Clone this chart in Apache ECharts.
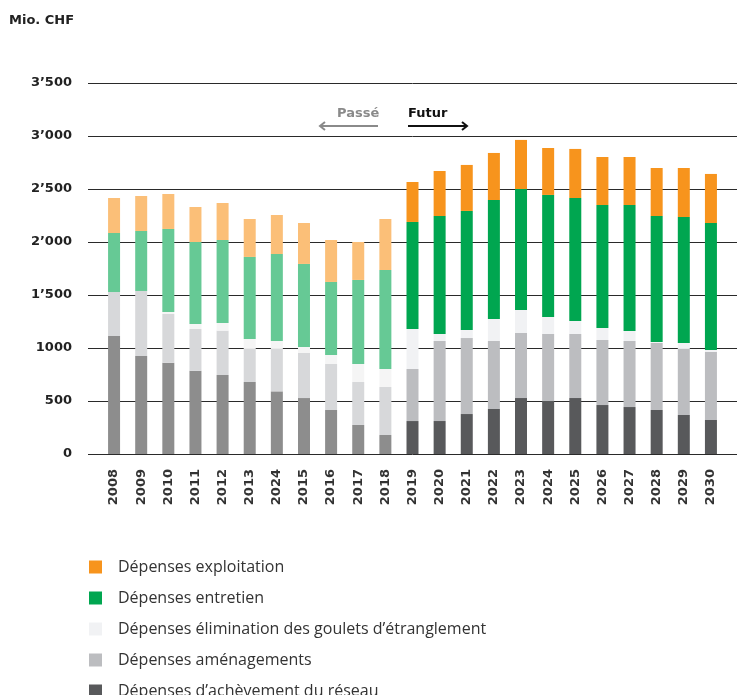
<!DOCTYPE html>
<html>
<head>
<meta charset="utf-8">
<script src="https://cdn.jsdelivr.net/npm/echarts@6/dist/echarts.min.js"></script>
<style>
  html, body { margin: 0; padding: 0; background: #fff; }
  #main { width: 737px; height: 695px; }
</style>
</head>
<body>
<div id="main"></div>
<script>
const myChart = echarts.init(document.getElementById('main'));

const years = ['2008', '2009', '2010', '2011', '2012', '2013', '2024', '2015', '2016', '2017', '2018',
  '2019', '2020', '2021', '2022', '2023', '2024', '2025', '2026', '2027', '2028', '2029', '2030'];
const pastCount = 11; // 2008-2018 : passé (couleurs claires)

const acheve = [1113, 925, 862, 786, 745, 679, 591, 528, 415, 274, 179,
  311, 311, 377, 425, 528, 500, 528, 462, 443, 415, 368, 321];
const amenag = [415, 613, 459, 393, 419, 312, 400, 425, 434, 405, 453,
  491, 755, 717, 641, 614, 632, 604, 614, 623, 632, 623, 641];
const goulets = [0, 0, 19, 48, 72, 94, 75, 57, 85, 170, 170,
  377, 66, 76, 208, 217, 161, 123, 113, 94, 10, 56, 19];
const entretien = [557, 566, 783, 773, 783, 774, 821, 783, 689, 793, 934,
  1010, 1113, 1123, 1122, 1141, 1151, 1160, 1160, 1189, 1188, 1189, 1198];
const exploit = [330, 330, 330, 330, 349, 358, 368, 386, 396, 358, 481,
  377, 425, 434, 444, 463, 443, 463, 453, 453, 453, 462, 463];

const yTicks = ['0', '500', '1000', '1’500', '2’000', '2’500', '3’000', '3’500'];

const seriesDefs = [
  { name: 'Dépenses d’achèvement du réseau', data: acheve, color: '#58595b', light: '#8d8d8d' },
  { name: 'Dépenses aménagements', data: amenag, color: '#bcbdc0', light: '#d7d8da' },
  { name: 'Dépenses élimination des goulets d’étranglement', data: goulets, color: '#f1f2f4', light: '#f5f5f5' },
  { name: 'Dépenses entretien', data: entretien, color: '#00a650', light: '#66c995' },
  { name: 'Dépenses exploitation', data: exploit, color: '#f7941d', light: '#fbbf78' }
];

const gridTop = 83, gridBottom = 241;
const boldFont = 'DejaVu Sans, sans-serif';

// une légende par ligne, pour garder une seule colonne
const legendOrder = [4, 3, 2, 1, 0];
const legends = legendOrder.map((k, i) => ({
  orient: 'vertical', left: 89, top: 559 + i * 31, padding: 0,
  itemWidth: 13, itemHeight: 13, icon: 'rect',
  data: [seriesDefs[k].name],
  textStyle: { fontSize: 16, color: '#333', fontFamily: 'Open Sans, sans-serif', padding: [0, 0, 0, 11] }
}));

const option = {
  animation: false,
  grid: [
    { left: 88, right: 0, top: gridTop, bottom: gridBottom },
    { left: 100.5, right: 12.5, top: gridTop, bottom: gridBottom }
  ],
  xAxis: [
    { type: 'category', gridIndex: 0, data: years, show: false },
    {
      type: 'category', gridIndex: 1, data: years,
      axisLine: { show: false }, axisTick: { show: false },
      axisLabel: { rotate: 90, margin: 15, interval: 0, fontSize: 13, fontWeight: 'bold', color: '#333', fontFamily: boldFont }
    }
  ],
  yAxis: [
    {
      type: 'value', gridIndex: 0, min: 0, max: 3500, interval: 500,
      axisLine: { show: false }, axisTick: { show: false },
      axisLabel: {
        margin: 16, fontSize: 13, fontWeight: 'bold', color: '#222', fontFamily: boldFont,
        formatter: v => yTicks[Math.round(v / 500)]
      },
      splitLine: { lineStyle: { color: '#2a2a2a', width: 1 } }
    },
    {
      type: 'value', gridIndex: 1, min: 0, max: 3500, interval: 500,
      show: false, splitLine: { show: false }
    }
  ],
  legend: legends,
  graphic: [
    { type: 'text', left: 9, top: 14, style: { text: 'Mio. CHF', font: 'bold 13px DejaVu Sans', fill: '#222' } },
    { type: 'text', left: 337, top: 107, style: { text: 'Passé', font: 'bold 13px DejaVu Sans', fill: '#8a8a8a' } },
    { type: 'polyline', shape: { points: [[378, 126], [320, 126]] }, style: { stroke: '#8a8a8a', lineWidth: 2 } },
    { type: 'polyline', shape: { points: [[325, 122], [320, 126], [325, 130]] }, style: { stroke: '#8a8a8a', lineWidth: 2, fill: null } },
    { type: 'text', left: 408, top: 107, style: { text: 'Futur', font: 'bold 13px DejaVu Sans', fill: '#111' } },
    { type: 'polyline', shape: { points: [[408, 126], [467, 126]] }, style: { stroke: '#111', lineWidth: 2 } },
    { type: 'polyline', shape: { points: [[462, 122], [467, 126], [462, 130]] }, style: { stroke: '#111', lineWidth: 2, fill: null } }
  ],
  series: seriesDefs.map(s => ({
    name: s.name,
    type: 'bar',
    stack: 'total',
    xAxisIndex: 1,
    yAxisIndex: 1,
    barWidth: 12,
    itemStyle: { color: s.color },
    data: s.data.map((v, i) => i < pastCount ? { value: v, itemStyle: { color: s.light } } : v)
  }))
};

myChart.setOption(option);
</script>
</body>
</html>
